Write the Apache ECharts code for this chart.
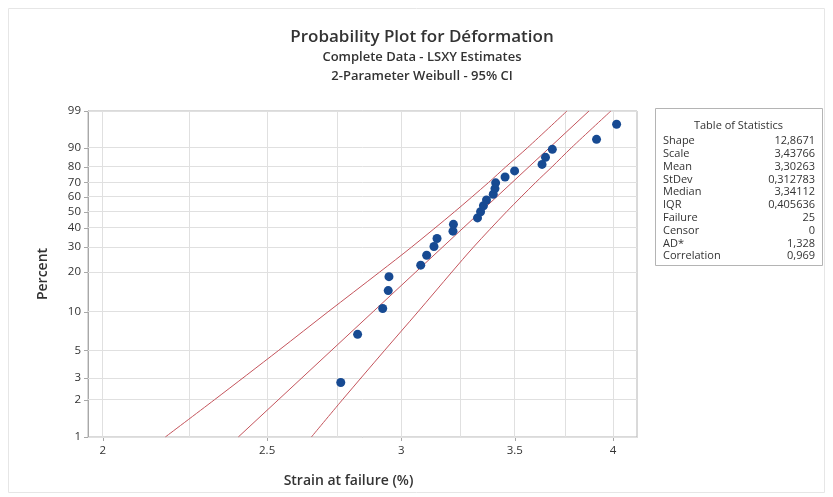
<!DOCTYPE html>
<html>
<head>
<meta charset="utf-8">
<script src="https://cdn.jsdelivr.net/npm/echarts@6/dist/echarts.min.js"></script>
<style>
  html, body { margin: 0; padding: 0; background: #ffffff; }
  #chart { width: 833px; height: 497px; }
</style>
</head>
<body>
<div id="chart"></div>
<script>
// Failure strains (%) sorted, with their median-rank plotting positions (%)
const strain = [2.763, 2.827, 2.925, 2.947, 2.950, 3.080, 3.105, 3.136, 3.149, 3.218,
                3.220, 3.327, 3.341, 3.354, 3.368, 3.399, 3.407, 3.410, 3.454, 3.499,
                3.632, 3.649, 3.683, 3.911, 4.019];
const rankPercent = [2.76, 6.69, 10.63, 14.57, 18.50, 22.44, 26.38, 30.31, 34.25, 38.19,
                     42.13, 46.06, 50.00, 53.94, 57.87, 61.81, 65.75, 69.69, 73.62, 77.56,
                     81.50, 85.43, 89.37, 93.31, 97.24];

// Fitted Weibull line (end points) and 95% confidence bounds
const fitPercent = [1, 99];
const fitStrain = [2.404, 3.871];
const ciPercent = [1, 2, 5, 10, 20, 30, 50, 70, 80, 90, 99];
const ciLower = [2.177, 2.327, 2.540, 2.715, 2.913, 3.042, 3.225, 3.378, 3.457, 3.560, 3.757];
const ciUpper = [2.655, 2.769, 2.933, 3.068, 3.213, 3.309, 3.461, 3.601, 3.681, 3.779, 3.988];

// Axis ticks and grid
const xTicks = [2, 2.5, 3, 3.5, 4];
const xMinorGrid = [2.25, 2.75, 3.25, 3.75];
const yTicks = [1, 2, 3, 5, 10, 20, 30, 40, 50, 60, 70, 80, 90, 99];
const xRange = [1.96, 4.132];
const yRange = [1, 99];

// Statistics table
const statNames = ['Shape', 'Scale', 'Mean', 'StDev', 'Median', 'IQR', 'Failure', 'Censor', 'AD*', 'Correlation'];
const statValues = ['12,8671', '3,43766', '3,30263', '0,312783', '3,34112', '0,405636', '25', '0', '1,328', '0,969'];

// Weibull paper: log strain on x, log(-log(1-p)) on y
const tx = v => Math.log(v);
const ty = p => Math.log(-Math.log(1 - p / 100));
const fromX = u => Math.exp(u);
const fromY = w => 100 * (1 - Math.exp(-Math.exp(w)));

const FONT = '"Open Sans", "Noto Sans", sans-serif';
const TXT = '#333333';

const xMin = tx(xRange[0]), xMax = tx(xRange[1]);
const yMin = ty(yRange[0]), yMax = ty(yRange[1]);

const gridColor = '#e0e0e0';
const snap = v => Math.round(v - 0.5) + 0.5;

// Grid lines drawn through the axes' own coordinate mapping
const gridVertical = {
  type: 'custom', silent: true, z: 1, clip: false,
  data: xTicks.concat(xMinorGrid).map(v => [tx(v), yMin]),
  renderItem: (params, api) => {
    const x = api.value(0);
    const a = api.coord([x, yMin]), b = api.coord([x, yMax]);
    const px = snap(a[0]);
    return { type: 'line', shape: { x1: px, y1: a[1], x2: px, y2: b[1] },
             style: { stroke: gridColor, lineWidth: 1 } };
  }
};
const gridHorizontal = {
  type: 'custom', silent: true, z: 1, clip: false,
  data: yTicks.map(p => [xMin, ty(p)]),
  renderItem: (params, api) => {
    const y = api.value(1);
    const a = api.coord([xMin, y]), b = api.coord([xMax, y]);
    const py = snap(a[1]);
    return { type: 'line', shape: { x1: a[0], y1: py, x2: b[0], y2: py },
             style: { stroke: gridColor, lineWidth: 1 } };
  }
};

const redLine = { color: '#c4545c', width: 1 };
const series = [
  gridVertical,
  gridHorizontal,
  { type: 'line', symbol: 'none', z: 3, lineStyle: redLine, smooth: 0.3,
    data: ciLower.map((v, i) => [tx(v), ty(ciPercent[i])]) },
  { type: 'line', symbol: 'none', z: 3, lineStyle: redLine, smooth: 0.3,
    data: ciUpper.map((v, i) => [tx(v), ty(ciPercent[i])]) },
  { type: 'line', symbol: 'none', z: 3, lineStyle: redLine,
    data: fitStrain.map((v, i) => [tx(v), ty(fitPercent[i])]) },
  { type: 'scatter', z: 5, symbol: 'circle', symbolSize: 9,
    itemStyle: { color: '#174a92', opacity: 1 },
    data: strain.map((v, i) => [tx(v), ty(rankPercent[i])]) }
];

const fmtX = u => String(Math.round(fromX(u) * 100) / 100);
const fmtY = w => String(Math.round(fromY(w)));

// Statistics box
const tableLeft = 655, tableTop = 108, tableW = 167, rowH = 12.8;
const tableChildren = [
  { type: 'rect', shape: { x: tableLeft + 0.5, y: tableTop + 0.5, width: tableW, height: 157 },
    style: { fill: '#ffffff', stroke: '#b4b4b4', lineWidth: 1 } },
  { type: 'text', x: tableLeft + tableW / 2, y: tableTop + 18,
    style: { text: 'Table of Statistics', font: '11px ' + FONT, fill: TXT,
             align: 'center', verticalAlign: 'middle' } }
];
statNames.forEach((name, i) => {
  const y = tableTop + 33 + i * rowH;
  tableChildren.push({ type: 'text', x: tableLeft + 8, y: y,
    style: { text: name, font: '11px ' + FONT, fill: TXT, align: 'left', verticalAlign: 'middle' } });
  tableChildren.push({ type: 'text', x: tableLeft + tableW - 7, y: y,
    style: { text: statValues[i], font: '11px ' + FONT, fill: TXT, align: 'right', verticalAlign: 'middle' } });
});

const option = {
  animation: false,
  backgroundColor: '#ffffff',
  grid: { left: 88, top: 111, right: 196, bottom: 60, show: true,
          borderColor: '#b4b4b4', borderWidth: 1, backgroundColor: 'transparent' },
  xAxis: {
    type: 'value', min: xMin, max: xMax,
    name: 'Strain at failure (%)', nameLocation: 'middle', nameGap: 37,
    nameTextStyle: { fontFamily: FONT, fontSize: 14, color: TXT, fontWeight: 600, padding: [0, 28, 0, 0] },
    axisLine: { show: true, onZero: false, lineStyle: { color: '#a8a8a8' } },
    axisTick: { show: true, length: 4, lineStyle: { color: '#a8a8a8' },
                customValues: xTicks.map(tx) },
    axisLabel: { customValues: xTicks.map(tx), formatter: fmtX,
                 fontFamily: FONT, fontSize: 11.5, color: TXT, margin: 8 },
    splitLine: { show: false }
  },
  yAxis: {
    type: 'value', min: yMin, max: yMax,
    name: 'Percent', nameLocation: 'middle', nameGap: 38, nameRotate: 90,
    nameTextStyle: { fontFamily: FONT, fontSize: 14, color: TXT, fontWeight: 600 },
    axisLine: { show: true, onZero: false, lineStyle: { color: '#a8a8a8' } },
    axisTick: { show: true, length: 4, lineStyle: { color: '#a8a8a8' },
                customValues: yTicks.map(ty) },
    axisLabel: { customValues: yTicks.map(ty), formatter: fmtY,
                 fontFamily: FONT, fontSize: 11.5, color: TXT, margin: 7 },
    splitLine: { show: false }
  },
  graphic: [
    { type: 'rect', shape: { x: 8.5, y: 8.5, width: 816, height: 484 },
      style: { fill: 'none', stroke: '#e6e6e6', lineWidth: 1 }, z: -1 },
    { type: 'text', x: 422, y: 37,
      style: { text: 'Probability Plot for Déformation', font: '600 17px ' + FONT,
               fill: '#333333', align: 'center', verticalAlign: 'middle' } },
    { type: 'text', x: 422, y: 57,
      style: { text: 'Complete Data - LSXY Estimates', font: '600 13px ' + FONT,
               fill: '#333333', align: 'center', verticalAlign: 'middle' } },
    { type: 'text', x: 422, y: 76,
      style: { text: '2-Parameter Weibull - 95% CI', font: '600 13px ' + FONT,
               fill: '#333333', align: 'center', verticalAlign: 'middle' } },
    { type: 'group', children: tableChildren }
  ],
  series: series
};

const chart = echarts.init(document.getElementById('chart'), null, { renderer: 'canvas' });
chart.setOption(option);
</script>
</body>
</html>
